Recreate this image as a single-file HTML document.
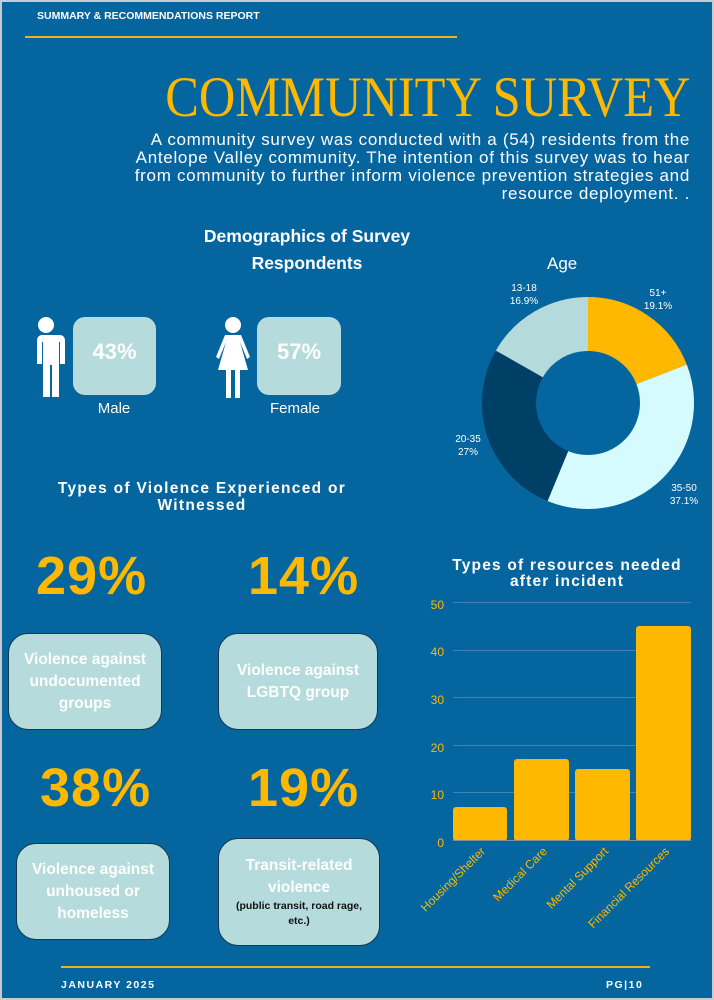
<!DOCTYPE html>
<html><head><meta charset="utf-8"><style>
*{margin:0;padding:0;box-sizing:border-box}
body{width:714px;height:1000px;background:#c8ccd0;overflow:hidden;font-family:"Liberation Sans",sans-serif}
#pg{position:absolute;left:2px;top:2px;width:710px;height:996px;background:#05659f;overflow:hidden}
.a{position:absolute;color:#fff}
.b{font-weight:bold}
.box{position:absolute;background:#b5dbdc;border-radius:12px}
.card{position:absolute;background:#b5dbdc;border:1.5px solid #17384a;border-radius:20px;color:#fff;font-weight:bold;text-align:center;font-size:15.5px;line-height:22px;display:flex;flex-direction:column;justify-content:center}
.big{position:absolute;color:#ffb800;font-weight:bold;font-size:54px;letter-spacing:1px}
</style></head><body><div id="pg">
<div class="a b" style="left:35px;top:8px;font-size:10.5px">SUMMARY &amp; RECOMMENDATIONS REPORT</div>
<div style="position:absolute;left:23px;top:34px;width:432px;height:2px;background:#f0b020"></div>
<div class="a" style="right:22px;top:64px;font-family:'Liberation Serif',serif;font-size:57px;color:#ffb800;line-height:64px;white-space:nowrap;transform:scaleX(0.885);transform-origin:right center">COMMUNITY SURVEY</div>
<div class="a" style="right:22px;top:129px;text-align:right;font-size:17px;line-height:18px;letter-spacing:0.7px;white-space:nowrap">A community survey was conducted with a (54) residents from the<br>Antelope Valley community. The intention of this survey was to hear<br>from community to further inform violence prevention strategies and<br>resource deployment. .</div>
<div class="a b" style="left:150px;width:310px;text-align:center;top:221px;font-size:17.5px;line-height:27px">Demographics of Survey<br>Respondents</div>
<div class="a" style="left:545px;top:252px;font-size:17px">Age</div>
<svg style="position:absolute;left:24px;top:314px" width="40" height="82" viewBox="0 0 40 82"><circle cx="20" cy="9" r="8" fill="#fff"/><path d="M6 19h28a5 5 0 0 1 5 5v24h-5v-22h-1v55h-7v-32h-2v32h-7v-55h-1v22h-5v-24a5 5 0 0 1 5-5z" fill="#fff"/></svg>
<svg style="position:absolute;left:211px;top:314px" width="40" height="82" viewBox="0 0 40 82"><circle cx="20" cy="9" r="8" fill="#fff"/><path d="M12 19h16l9 22-3 2-7-17 8 28h-8v28h-5v-28h-4v28h-5v-28h-8l8-28-7 17-3-2z" fill="#fff"/></svg>
<div class="box" style="left:71px;top:315px;width:83px;height:78px"></div>
<div class="a b" style="left:71px;top:337px;width:83px;text-align:center;font-size:22px">43%</div>
<div class="box" style="left:255px;top:315px;width:84px;height:78px"></div>
<div class="a b" style="left:255px;top:337px;width:84px;text-align:center;font-size:22px">57%</div>
<div class="a" style="left:62px;width:100px;text-align:center;top:398px;font-size:15px">Male</div>
<div class="a" style="left:243px;width:100px;text-align:center;top:398px;font-size:15px">Female</div>
<svg style="position:absolute;left:0;top:0" width="710" height="996">
<g transform="rotate(-90 586 401)" fill="none" stroke-width="54">
<circle cx="586" cy="401" r="79" stroke="#ffb800" stroke-dasharray="94.8 500" stroke-dashoffset="0"/>
<circle cx="586" cy="401" r="79" stroke="#d6fbff" stroke-dasharray="184.2 500" stroke-dashoffset="-94.8"/>
<circle cx="586" cy="401" r="79" stroke="#003f66" stroke-dasharray="134 500" stroke-dashoffset="-279"/>
<circle cx="586" cy="401" r="79" stroke="#b5dadb" stroke-dasharray="83.9 500" stroke-dashoffset="-413"/>
</g>
<g fill="#fff" font-size="10" font-family="Liberation Sans,sans-serif" text-anchor="middle">
<text x="522" y="289">13-18</text><text x="522" y="302">16.9%</text>
<text x="656" y="294">51+</text><text x="656" y="307">19.1%</text>
<text x="466" y="440">20-35</text><text x="466" y="453">27%</text>
<text x="682" y="489">35-50</text><text x="682" y="502">37.1%</text>
</g>
<g stroke="#3f82b3" stroke-width="1">
<line x1="451" x2="689" y1="600.5" y2="600.5"/><line x1="451" x2="689" y1="648.5" y2="648.5"/><line x1="451" x2="689" y1="695.5" y2="695.5"/><line x1="451" x2="689" y1="743.5" y2="743.5"/><line x1="451" x2="689" y1="790.5" y2="790.5"/>
</g>
<g fill="#ffb800">
<rect x="451" y="805" width="54" height="34" rx="3"/>
<rect x="512" y="757" width="55" height="82" rx="3"/>
<rect x="573" y="767" width="55" height="72" rx="3"/>
<rect x="634" y="624" width="55" height="215" rx="3"/>
</g>
<line x1="451" x2="689" y1="838.5" y2="838.5" stroke="#7f8f9a" stroke-width="1"/>
<g fill="#ffb800" font-size="12" font-family="Liberation Sans,sans-serif" text-anchor="end">
<text x="442" y="607">50</text><text x="442" y="654">40</text><text x="442" y="702">30</text><text x="442" y="750">20</text><text x="442" y="797">10</text><text x="442" y="845">0</text>
<text transform="translate(484 850) rotate(-45)">Housing/Shelter</text>
<text transform="translate(546 850) rotate(-45)">Medical Care</text>
<text transform="translate(607 850) rotate(-45)">Mental Support</text>
<text transform="translate(668 850) rotate(-45)">Financial Resources</text>
</g>
</svg>
<div class="a b" style="left:415px;width:300px;text-align:center;top:556px;font-size:15.5px;line-height:16px;letter-spacing:1.2px">Types of resources needed<br>after incident</div>
<div class="a b" style="left:10px;width:380px;text-align:center;top:478px;font-size:15.5px;line-height:17px;letter-spacing:1.3px">Types of Violence Experienced or<br>Witnessed</div>
<div class="big" style="left:34px;top:543px">29%</div>
<div class="big" style="left:246px;top:543px">14%</div>
<div class="big" style="left:38px;top:755px">38%</div>
<div class="big" style="left:246px;top:755px">19%</div>
<div class="card" style="left:6px;top:631px;width:154px;height:97px">Violence against<br>undocumented<br>groups</div>
<div class="card" style="left:216px;top:631px;width:160px;height:97px">Violence against<br>LGBTQ group</div>
<div class="card" style="left:14px;top:841px;width:154px;height:97px">Violence against<br>unhoused or<br>homeless</div>
<div class="card" style="left:216px;top:836px;width:162px;height:108px">Transit-related<br>violence<span style="color:#111;font-size:10.5px;line-height:15px;display:block">(public transit, road rage,<br>etc.)</span></div>
<div style="position:absolute;left:59px;top:964px;width:589px;height:2px;background:#f0b020"></div>
<div class="a b" style="left:59px;top:977px;font-size:10.5px;letter-spacing:1.5px">JANUARY 2025</div>
<div class="a b" style="left:604px;top:977px;font-size:10.5px;letter-spacing:1.5px">PG|10</div>
</div></body></html>
